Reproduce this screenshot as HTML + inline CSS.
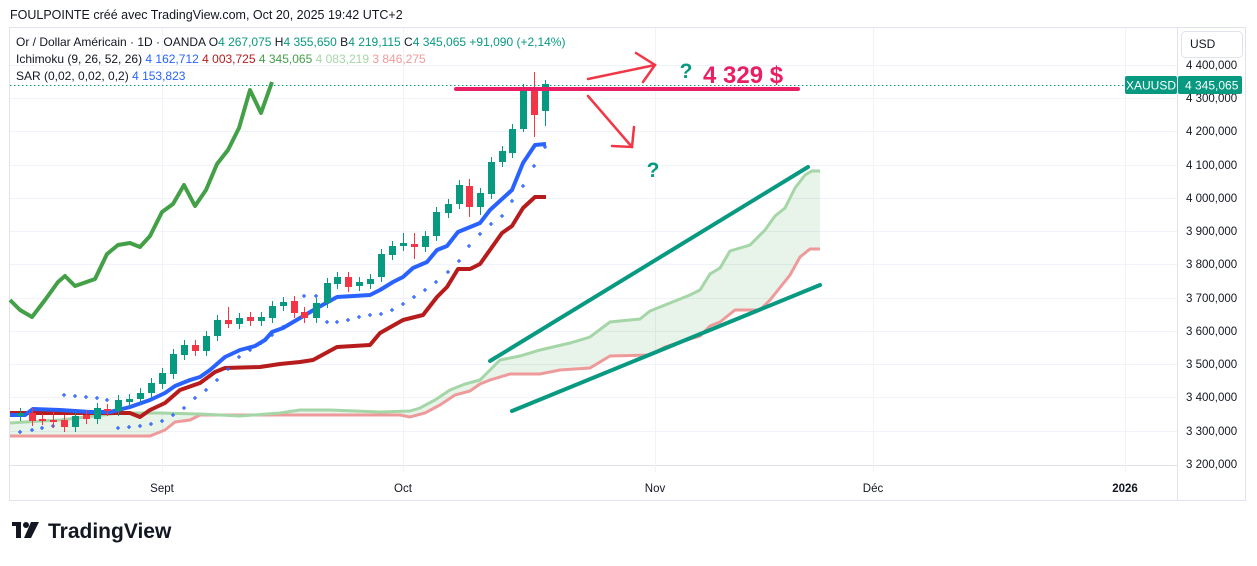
<!DOCTYPE html>
<html><head><meta charset="utf-8"><style>
html,body{margin:0;padding:0;background:#fff;}
body{width:1257px;height:561px;overflow:hidden;font-family:"Liberation Sans",sans-serif;}
</style></head><body>
<svg width="1257" height="561" xmlns="http://www.w3.org/2000/svg" font-family="Liberation Sans, sans-serif">
<text x="10" y="19" font-size="12.5" fill="#131722">FOULPOINTE créé avec TradingView.com, Oct 20, 2025 19:42 UTC+2</text>
<rect x="9.5" y="27.5" width="1236" height="473" fill="none" stroke="#e0e3eb"/>
<line x1="1177.5" y1="28" x2="1177.5" y2="500" stroke="#e0e3eb"/>
<line x1="10" y1="465.5" x2="1177" y2="465.5" stroke="#e0e3eb"/>
<g stroke="#f0f3fa" stroke-width="1">
<line x1="10" x2="1177" y1="65.5" y2="65.5"/><line x1="10" x2="1177" y1="98.5" y2="98.5"/><line x1="10" x2="1177" y1="131.5" y2="131.5"/><line x1="10" x2="1177" y1="165.5" y2="165.5"/><line x1="10" x2="1177" y1="198.5" y2="198.5"/><line x1="10" x2="1177" y1="231.5" y2="231.5"/><line x1="10" x2="1177" y1="264.5" y2="264.5"/><line x1="10" x2="1177" y1="298.5" y2="298.5"/><line x1="10" x2="1177" y1="331.5" y2="331.5"/><line x1="10" x2="1177" y1="364.5" y2="364.5"/><line x1="10" x2="1177" y1="397.5" y2="397.5"/><line x1="10" x2="1177" y1="431.5" y2="431.5"/>
<line x1="162.5" x2="162.5" y1="28" y2="472"/><line x1="403.5" x2="403.5" y1="28" y2="472"/><line x1="655.5" x2="655.5" y1="28" y2="472"/><line x1="873.5" x2="873.5" y1="28" y2="472"/><line x1="1125.5" x2="1125.5" y1="28" y2="472"/>
</g>
<g font-size="11.5" fill="#131722">
<text x="1186" y="69">4 400,000</text><text x="1186" y="102">4 300,000</text><text x="1186" y="135">4 200,000</text><text x="1186" y="169">4 100,000</text><text x="1186" y="202">4 000,000</text><text x="1186" y="235">3 900,000</text><text x="1186" y="268">3 800,000</text><text x="1186" y="302">3 700,000</text><text x="1186" y="335">3 600,000</text><text x="1186" y="368">3 500,000</text><text x="1186" y="401">3 400,000</text><text x="1186" y="435">3 300,000</text><text x="1186" y="468">3 200,000</text>
</g>
<g font-size="11.5" fill="#131722" text-anchor="middle">
<text x="162" y="492">Sept</text><text x="403" y="492">Oct</text><text x="655" y="492">Nov</text><text x="873" y="492">Déc</text><text x="1125" y="492" font-weight="bold">2026</text>
</g>
<rect x="1181.5" y="31.5" width="61" height="26" rx="4" fill="#fff" stroke="#e0e3eb"/>
<text x="1190" y="48" font-size="12" fill="#131722">USD</text>
<polygon fill="rgba(67,160,71,0.12)" points="10,423 40,421 60,420 120,413 160,413 200,414 240,416 280,413 300,410 330,410 380,412 410,411 420,408 435,400 450,390 465,384 480,380 490,370 500,360 520,356 540,350 570,343 590,337 610,322 640,319 650,311 670,303 690,295 700,290 710,274 720,268 730,251 750,245 765,230 775,216 785,208 795,188 805,175 812,171 820,171 820,249 810,249 800,257 790,275 770,300 760,310 735,310 720,322 710,326 700,336 690,339 665,347 650,355 610,356 590,368 560,370 540,374 510,374 490,380 480,384 470,391 455,395 440,405 425,413 410,417 400,415 200,415 190,420 175,422 165,430 150,436 10,436"/>
<polyline fill="none" stroke="#ef9a9a" stroke-width="3" points="10,436 150,436 165,430 175,422 190,420 200,415 400,415 410,417 425,413 440,405 455,395 470,391 480,384 490,380 510,374 540,374 560,370 590,368 610,356 650,355 665,347 690,339 700,336 710,326 720,322 735,310 760,310 770,300 790,275 800,257 810,249 820,249"/>
<polyline fill="none" stroke="#a5d6a7" stroke-width="3" points="10,423 40,421 60,420 120,413 160,413 200,414 240,416 280,413 300,410 330,410 380,412 410,411 420,408 435,400 450,390 465,384 480,380 490,370 500,360 520,356 540,350 570,343 590,337 610,322 640,319 650,311 670,303 690,295 700,290 710,274 720,268 730,251 750,245 765,230 775,216 785,208 795,188 805,175 812,171 820,171"/>
<polyline fill="none" stroke="#b71c1c" stroke-width="4" stroke-linejoin="round" points="10,413 130,413 140,417 150,410 165,403 180,390 200,383 215,372 225,368 260,367 280,364 300,362 313,360 337,347 370,345 380,333 403,320 423,315 437,297 447,287 458,269 470,269 480,264 502,233 512,226 523,208 535,197 546,197"/>
<polyline fill="none" stroke="#2962ff" stroke-width="4" stroke-linejoin="round" points="10,415 25,415 33,409 60,410 90,412 110,412 130,407 150,400 165,393 175,386 190,380 200,377 210,370 225,357 240,350 255,346 265,340 272,332 283,328 300,318 317,308 337,297 370,295 380,290 393,282 403,277 413,268 427,262 437,250 447,246 458,232 480,223 490,210 512,190 523,163 535,145 546,144"/>
<polyline fill="none" stroke="#43a047" stroke-width="4" stroke-linejoin="round" points="10,300 20,310 32,317 45,300 58,282 65,276 75,286 95,279 107,254 118,245 130,243 140,247 150,236 162,212 173,204 184,185 195,206 206,190 217,164 228,150 239,128 250,90 261,113 272,82"/>
<path stroke="#2962ff" stroke-width="1.3" fill="none" d="M18 432h4M20 430v4 M30 430h4M32 428v4 M40 428h4M42 426v4 M51 426h4M53 424v4 M62 395h4M64 393v4 M73 396h4M75 394v4 M84 397h4M86 395v4 M95 398h4M97 396v4 M105 400h4M107 398v4 M116 428h4M118 426v4 M127 427h4M129 425v4 M138 426h4M140 424v4 M149 424h4M151 422v4 M160 421h4M162 419v4 M171 415h4M173 413v4 M182 408h4M184 406v4 M193 398h4M195 396v4 M204 390h4M206 388v4 M215 380h4M217 378v4 M226 369h4M228 367v4 M237 357h4M239 355v4 M248 350h4M250 348v4 M259 343h4M261 341v4 M270 335h4M272 333v4 M281 327h4M283 325v4 M302 296h4M304 294v4 M314 296h4M316 294v4 M325 322h4M327 320v4 M335 322h4M337 320v4 M346 320h4M348 318v4 M357 317h4M359 315v4 M368 315h4M370 313v4 M379 314h4M381 312v4 M390 310h4M392 308v4 M401 304h4M403 302v4 M412 297h4M414 295v4 M423 290h4M425 288v4 M434 282h4M436 280v4 M446 272h4M448 270v4 M457 261h4M459 259v4 M467 246h4M469 244v4 M478 234h4M480 232v4 M489 224h4M491 222v4 M500 216h4M502 214v4 M510 201h4M512 199v4 M521 186h4M523 184v4 M532 166h4M534 164v4 M543 147h4M545 145v4"/>
<path stroke="#089981" stroke-width="1" fill="none" d="M20.5 408V421 M75.5 411V432 M97.5 403V424 M118.5 395V416 M129.5 394V407 M140.5 388V404 M151.5 378V398 M162.5 368V389 M173.5 349V379 M184.5 340V360 M206.5 331V356 M217.5 315V341 M239.5 313V329 M261.5 312V326 M272.5 301V323 M283.5 297V311 M316.5 298V323 M327.5 278V308 M337.5 272V289 M359.5 277V291 M370.5 274V289 M381.5 249V282 M392.5 241V260 M403.5 233V251 M425.5 231V252 M436.5 207V241 M448.5 199V218 M459.5 180V209 M480.5 188V215 M491.5 157V199 M502.5 146V167 M512.5 124V158 M523.5 84V132 M545.5 80V126"/>
<path stroke="#f23645" stroke-width="1" fill="none" d="M32.5 408V426 M42.5 414V425 M53.5 412V428 M64.5 415V432 M86.5 410V424 M107.5 404V416 M195.5 340V356 M228.5 307V328 M250.5 312V326 M294.5 296V318 M304.5 307V323 M348.5 272V292 M414.5 233V259 M469.5 179V217 M534.5 72V137"/>
<g fill="#089981">
<rect x="17" y="413" width="7" height="3"/><rect x="72" y="416" width="7" height="11"/><rect x="94" y="408" width="7" height="11"/><rect x="115" y="400" width="7" height="11"/><rect x="126" y="399" width="7" height="3"/><rect x="137" y="393" width="7" height="6"/><rect x="148" y="383" width="7" height="10"/><rect x="159" y="373" width="7" height="11"/><rect x="170" y="354" width="7" height="20"/><rect x="181" y="345" width="7" height="10"/><rect x="203" y="336" width="7" height="15"/><rect x="214" y="320" width="7" height="16"/><rect x="236" y="318" width="7" height="6"/><rect x="258" y="317" width="7" height="4"/><rect x="269" y="306" width="7" height="12"/><rect x="280" y="302" width="7" height="4"/><rect x="313" y="303" width="7" height="15"/><rect x="324" y="283" width="7" height="20"/><rect x="334" y="277" width="7" height="7"/><rect x="356" y="282" width="7" height="4"/><rect x="367" y="279" width="7" height="5"/><rect x="378" y="254" width="7" height="23"/><rect x="389" y="246" width="7" height="9"/><rect x="400" y="243" width="7" height="3"/><rect x="422" y="236" width="7" height="11"/><rect x="433" y="212" width="7" height="24"/><rect x="445" y="204" width="7" height="9"/><rect x="456" y="185" width="7" height="19"/><rect x="477" y="193" width="7" height="14"/><rect x="488" y="162" width="7" height="32"/><rect x="499" y="151" width="7" height="11"/><rect x="509" y="129" width="7" height="24"/><rect x="520" y="89" width="7" height="40"/><rect x="542" y="84" width="7" height="27"/>
</g>
<g fill="#f23645">
<rect x="29" y="413" width="7" height="8"/><rect x="39" y="419" width="7" height="2"/><rect x="50" y="420" width="7" height="2"/><rect x="61" y="420" width="7" height="7"/><rect x="83" y="415" width="7" height="4"/><rect x="104" y="409" width="7" height="2"/><rect x="192" y="345" width="7" height="6"/><rect x="225" y="320" width="7" height="4"/><rect x="247" y="317" width="7" height="4"/><rect x="291" y="301" width="7" height="12"/><rect x="301" y="312" width="7" height="6"/><rect x="345" y="277" width="7" height="10"/><rect x="411" y="244" width="7" height="3"/><rect x="466" y="186" width="7" height="21"/><rect x="531" y="87" width="7" height="28"/>
</g>
<line x1="10" x2="1125" y1="85.5" y2="85.5" stroke="#089981" stroke-dasharray="1.5,2.5"/>
<rect x="1125" y="76" width="52" height="18" rx="2" fill="#089981"/>
<text x="1151" y="89.5" font-size="12" fill="#fff" text-anchor="middle">XAUUSD</text>
<rect x="1178" y="76" width="64" height="18" rx="2" fill="#089981"/>
<text x="1185" y="89.5" font-size="12" fill="#fff">4 345,065</text>
<line x1="456" y1="89" x2="798" y2="89" stroke="#e91e63" stroke-width="4" stroke-linecap="round"/>
<g stroke="#f23645" stroke-width="2.5" fill="none" stroke-linecap="round">
<line x1="588" y1="79" x2="655" y2="65"/><polyline points="636,53 655,65 643,82"/>
<line x1="588" y1="96" x2="632" y2="147"/><polyline points="612,146 632,147 634,127"/>
</g>
<text x="686" y="78" font-size="21" font-weight="bold" fill="#089981" text-anchor="middle">?</text>
<text x="653" y="177" font-size="21" font-weight="bold" fill="#089981" text-anchor="middle">?</text>
<text x="703" y="83" font-size="24" font-weight="bold" fill="#e91e63">4 329 $</text>
<g stroke="#089981" stroke-width="4" stroke-linecap="round">
<line x1="490" y1="361" x2="808" y2="167"/><line x1="512" y1="411" x2="820" y2="285"/>
</g>
<g font-size="12" fill="#131722">
<text x="16" y="46">Or / Dollar Américain · 1D · OANDA <tspan>O</tspan><tspan fill="#089981">4 267,075</tspan> H<tspan fill="#089981">4 355,650</tspan> B<tspan fill="#089981">4 219,115</tspan> C<tspan fill="#089981">4 345,065  +91,090 (+2,14%)</tspan></text>
<text x="16" y="63">Ichimoku (9, 26, 52, 26) <tspan fill="#2962ff">4 162,712</tspan> <tspan fill="#b71c1c">4 003,725</tspan> <tspan fill="#43a047">4 345,065</tspan> <tspan fill="#a5d6a7">4 083,219</tspan> <tspan fill="#ef9a9a">3 846,275</tspan></text>
<text x="16" y="80">SAR (0,02, 0,02, 0,2) <tspan fill="#2962ff">4 153,823</tspan></text>
</g>
<g fill="#131722">
<rect x="12" y="522" width="9" height="4"/><rect x="16" y="522" width="5" height="16"/><circle cx="26" cy="525" r="3"/><polygon points="31,522 39,522 31,538 24,538"/>
<text x="48" y="538" font-size="21" font-weight="bold">TradingView</text>
</g>
</svg>
</body></html>
